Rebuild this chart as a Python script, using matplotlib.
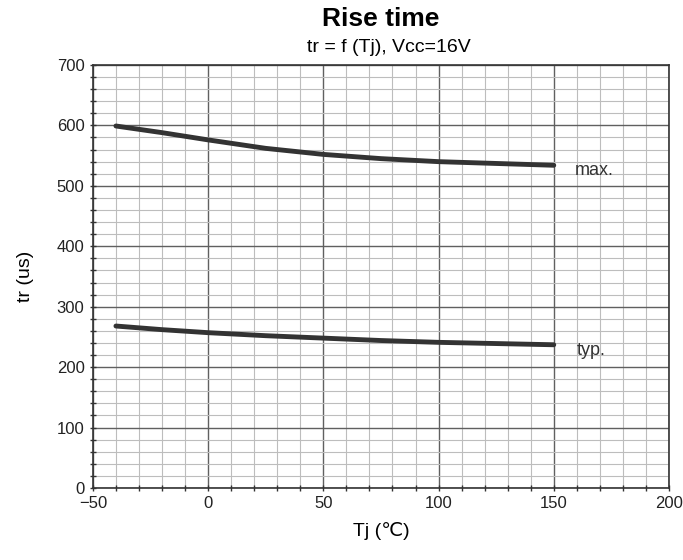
import matplotlib
matplotlib.use("Agg")
import matplotlib.pyplot as plt
import numpy as np

plt.rcParams['font.family'] = ['Liberation Sans', 'DejaVu Sans']

tj = [-40, -20, 0, 25, 50, 75, 100, 125, 150]
tr_max = [599, 588, 576, 562, 552, 545, 540, 537, 534]
tr_typ = [268, 262, 257, 252, 248, 244, 241, 239, 237]
labels = ["max.", "typ."]

fig = plt.figure(figsize=(6.83, 5.6), dpi=100)
ax = fig.add_axes([0.136, 0.1286, 0.8435, 0.7554])

ax.set_xlim(-50, 200)
ax.set_ylim(0, 700)
ax.set_xticks(np.arange(-50, 201, 50))
ax.set_yticks(np.arange(0, 701, 100))
ax.set_xticks(np.arange(-50, 201, 10), minor=True)
ax.set_yticks(np.arange(0, 701, 20), minor=True)
ax.grid(which='major', color='#606060', linewidth=1.0)
ax.grid(which='minor', color='#bdbdbd', linewidth=0.8)
ax.set_axisbelow(True)
ax.tick_params(which='both', direction='inout', length=5, width=1, color='#333333', labelsize=12, labelcolor='#222222')
ax.tick_params(which='minor', length=4)
for s in ax.spines.values():
    s.set_color('#333333')
    s.set_linewidth(1.2)

ax.plot(tj, tr_max, color='#333333', linewidth=3.5, solid_capstyle='round')
ax.plot(tj, tr_typ, color='#333333', linewidth=3.5, solid_capstyle='round')
ax.text(159, 525, labels[0], fontsize=13, color='#333333', va='center', ha='left')
ax.text(160, 227, labels[1], fontsize=13, color='#333333', va='center', ha='left')

ax.set_xlabel("Tj (℃)", fontsize=14, labelpad=8)
ax.set_ylabel("tr (us)", fontsize=14, labelpad=16)
fig.text(0.558, 0.966, "Rise time", fontsize=19, fontweight='bold', ha='center', va='center')
fig.text(0.570, 0.916, "tr = f (Tj), Vcc=16V", fontsize=14, ha='center', va='center')

fig.savefig("out.png", dpi=100)
